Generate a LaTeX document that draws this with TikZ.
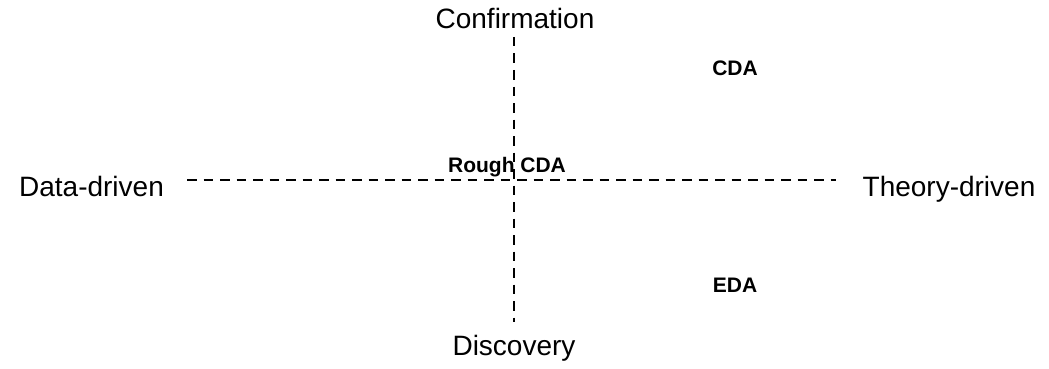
\documentclass[tikz,border=0pt]{standalone}
\usepackage{fontspec}
\setmainfont{Liberation Sans}
\begin{document}
\begin{tikzpicture}[x=1pt,y=-1pt,
  axislabel/.style={font=\fontsize{28}{30}\selectfont, inner sep=0pt, anchor=base},
  regionlabel/.style={font=\bfseries\fontsize{21}{23}\selectfont, inner sep=0pt, anchor=base},
  axisline/.style={line width=2.6pt, dash pattern=on 9.5pt off 7pt}]
  \useasboundingbox (0,0) rectangle (1049,369);
  % axis end labels
  \node[axislabel] (conf) at (515,29) {Confirmation};
  \node[axislabel] (disc) at (514,355) {Discovery};
  \node[axislabel] (data) at (91.5,196) {Data-driven};
  \node[axislabel] (theory) at (949,196) {Theory-driven};
  % axis ends
  \coordinate (top) at (514,37);
  \coordinate (bottom) at (514,322);
  \coordinate (left) at (187,180);
  \coordinate (right) at (836,180);
  % dashed axes
  \draw[axisline] (top) -- (bottom);
  \draw[axisline] (left) -- (right);
  % region labels
  \node[regionlabel] (cda) at (735,75) {CDA};
  \node[regionlabel] (rough) at (507,172) {Rough CDA};
  \node[regionlabel] (eda) at (735,292) {EDA};
\end{tikzpicture}
\end{document}
